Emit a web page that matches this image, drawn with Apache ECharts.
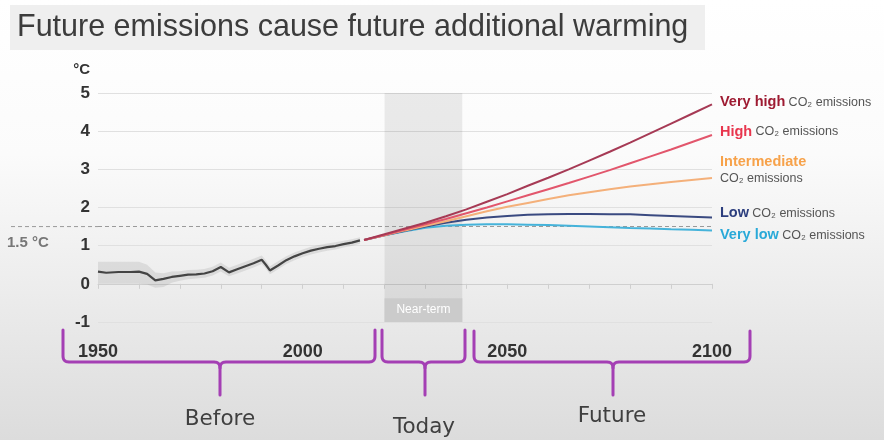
<!DOCTYPE html>
<html><head><meta charset="utf-8">
<script src="https://cdn.jsdelivr.net/npm/echarts@6/dist/echarts.min.js"></script>
<style>html,body{margin:0;padding:0;background:#fff}#c{width:884px;height:440px}</style>
</head><body><div id="c"></div>
<script>
// ---- data ----
const histYears = [1950,1952,1955,1958,1960,1962,1964,1966,1968,1970,1972,1974,1976,1978,1980,1982,1984,1986,1988,1990,1991,1992,1994,1996,1998,2000,2002,2004,2006,2008,2010,2012,2014];
const histTemp  = [0.32,0.29,0.31,0.31,0.32,0.26,0.09,0.13,0.18,0.21,0.24,0.25,0.27,0.33,0.44,0.30,0.38,0.46,0.54,0.63,0.50,0.35,0.48,0.62,0.72,0.80,0.87,0.92,0.96,0.99,1.04,1.08,1.14];
const bandLow   = [0.00,0.00,0.00,0.00,0.00,-0.02,-0.10,-0.08,0.03,0.08,0.12,0.14,0.16,0.22,0.32,0.20,0.27,0.35,0.43,0.52,0.40,0.25,0.38,0.52,0.62,0.70,0.77,0.82,0.87,0.90,0.95,0.99,1.05];
const bandHigh  = [0.58,0.58,0.58,0.58,0.58,0.50,0.30,0.28,0.32,0.33,0.36,0.37,0.39,0.45,0.56,0.42,0.50,0.58,0.66,0.74,0.62,0.46,0.59,0.72,0.82,0.90,0.97,1.02,1.06,1.09,1.13,1.17,1.22];

const scenYears = [2015,2020,2025,2030,2035,2040,2045,2050,2055,2060,2065,2070,2075,2080,2085,2090,2095,2100];
const veryHigh  = [1.15,1.30,1.45,1.60,1.77,1.95,2.15,2.35,2.57,2.78,3.00,3.23,3.46,3.70,3.95,4.20,4.45,4.70];
const high      = [1.15,1.28,1.42,1.56,1.70,1.85,2.00,2.16,2.32,2.48,2.64,2.81,2.98,3.16,3.34,3.52,3.71,3.90];
const intermed  = [1.15,1.27,1.40,1.52,1.64,1.77,1.90,2.02,2.12,2.22,2.32,2.40,2.48,2.55,2.61,2.67,2.72,2.77];
const low       = [1.15,1.27,1.39,1.50,1.60,1.68,1.74,1.78,1.81,1.82,1.83,1.83,1.82,1.82,1.80,1.78,1.76,1.74];
const veryLow   = [1.15,1.27,1.38,1.47,1.52,1.55,1.56,1.56,1.55,1.54,1.52,1.50,1.48,1.46,1.45,1.43,1.42,1.40];

const scenNames  = ['Very low','Low','Intermediate','High','Very high'];
const scenValues = [veryLow, low, intermed, high, veryHigh];
const scenLine   = ['#45b3da','#3a4a80','#f4b07a','#e2566c','#a63a55'];
const scenText   = ['#29a9d8','#2c3e7e','#f7a24a','#e8364e','#9e1b32'];
const scenDy     = [5,-4,-8,-3,-2];

const yearTicks = [1950,2000,2050,2100];
const nearTerm  = [2020,2039];
const limit15   = 1.5;

// ---- chart ----
const chart = echarts.init(document.getElementById('c'));
const pairs = (xs, ys) => xs.map((x,i)=>[x, ys[i]]);
const FONT = 'Liberation Sans, Arial, sans-serif';

const series = [];
// uncertainty band around observations (polygon through the axis scales)
series.push({
  type:'custom', name:'band', silent:true, z:1,
  data: histYears.map((x,i)=>[x, bandLow[i], bandHigh[i]]),
  renderItem: function(params, api){
    if(params.dataIndex !== 0) return null;
    const top = [], bot = [];
    for(let i=0;i<histYears.length;i++){
      top.push(api.coord([histYears[i], bandHigh[i]]));
      bot.unshift(api.coord([histYears[i], bandLow[i]]));
    }
    return {type:'polygon', shape:{points: top.concat(bot)}, style:{fill:'rgba(140,140,140,0.2)'}};
  },
  encode:{x:0, y:[1,2]}
});
series.push({
  type:'line', name:'Observed', data: pairs(histYears, histTemp), symbol:'none',
  lineStyle:{color:'#444', width:2.2}, z:5,
  markArea:{
    silent:true,
    data:[
      [{xAxis:nearTerm[0], yAxis:5, itemStyle:{color:'rgba(0,0,0,0.075)'}}, {xAxis:nearTerm[1], yAxis:-1}],
      [{xAxis:nearTerm[0], yAxis:-0.38, itemStyle:{color:'#cbcbcb'},
        label:{show:true, position:'inside', formatter:'Near-term', color:'#fff', fontSize:12, fontFamily:FONT}},
       {xAxis:nearTerm[1], yAxis:-1}]
    ]
  },
  markLine:{
    silent:true, symbol:'none',
    lineStyle:{color:'#9a9a9a', type:[4,3], width:1},
    label:{show:false},
    data:[{yAxis:limit15}]
  }
});
scenNames.forEach((n,i)=>{
  const isInter = n==='Intermediate';
  series.push({
    type:'line', name:n, data: pairs(scenYears, scenValues[i]), symbol:'none',
    lineStyle:{color:scenLine[i], width:2}, z:6+i,
    endLabel:{
      show:true, distance:8, offset:[0, scenDy[i]], align:'left', verticalAlign:'middle',
      formatter: isInter ? '{a|'+n+'}\n{b|CO₂ emissions}' : '{a|'+n+'} {b|CO₂ emissions}',
      rich:{
        a:{fontWeight:'bold', fontSize:14.5, color:scenText[i], fontFamily:FONT, lineHeight:17},
        b:{fontSize:12.5, color:'#555', fontFamily:FONT, lineHeight:17}
      }
    }
  });
});

// curly-brace outline (decoration) as sampled polylines
function quad(p0, p1, p2, out){
  for(let k=1;k<=6;k++){const t=k/6, u=1-t;
    out.push([u*u*p0[0]+2*u*t*p1[0]+t*t*p2[0], u*u*p0[1]+2*u*t*p1[1]+t*t*p2[1]]);}
}
function brace(x1, x2, xm, y0, y1, y2){
  const r = 6;
  const a = [[x1,y0],[x1,y1-r]]; quad([x1,y1-r],[x1,y1],[x1+r,y1],a);
  a.push([xm-r,y1]); quad([xm-r,y1],[xm,y1],[xm,y1+r],a); a.push([xm,y2]);
  const b = [[xm,y1+r]]; quad([xm,y1+r],[xm,y1],[xm+r,y1],b);
  b.push([x2-r,y1]); quad([x2-r,y1],[x2,y1],[x2,y1-r],b); b.push([x2,y0]);
  const st = {stroke:'#a43fb4', lineWidth:3, fill:null, lineCap:'round', lineJoin:'round'};
  return [{type:'polyline', shape:{points:a}, style:st}, {type:'polyline', shape:{points:b}, style:st}];
}
const wordStyle = {fontFamily:'DejaVu Sans, sans-serif', fontSize:21.5, fill:'#3f3f3f', align:'center', verticalAlign:'middle'};

chart.setOption({
  animation:false,
  backgroundColor:{type:'linear', x:0, y:0, x2:0, y2:1, colorStops:[
    {offset:0, color:'#ffffff'},{offset:0.35, color:'#fbfbfb'},{offset:1, color:'#dcdcdc'}]},
  grid:{left:98, right:172, top:93, bottom:118},
  xAxis:{
    type:'value', min:1950, max:2100, interval:10,
    axisLine:{lineStyle:{color:'#cfcfcf'}},
    axisTick:{show:true, length:5, lineStyle:{color:'#cfcfcf'}},
    splitLine:{show:false},
    axisLabel:{margin:21, fontSize:18, fontWeight:'bold', color:'#333', fontFamily:FONT,
      formatter:v => yearTicks.includes(v) ? String(v) : ''}
  },
  yAxis:{
    type:'value', min:-1, max:5, interval:1,
    name:'°C', nameLocation:'end', nameGap:16,
    nameTextStyle:{align:'right', padding:[0,8,0,0], fontSize:15, fontWeight:'bold', color:'#333', fontFamily:FONT},
    axisLine:{show:false}, axisTick:{show:false},
    splitLine:{lineStyle:{color:'#e0e0e0'}},
    axisLabel:{margin:8, fontSize:17, fontWeight:'bold', color:'#333', fontFamily:FONT}
  },
  series: series
});

// 1.5 °C reference: extend dashed line to the left margin and label it
const p15 = chart.convertToPixel({gridIndex:0}, [1950, limit15]);
chart.setOption({
  graphic:[
    {type:'rect', shape:{x:10, y:5, width:695, height:45}, style:{fill:'#efefef'}, silent:true},
    {type:'text', x:17, y:28, style:{text:'Future emissions cause future additional warming', fontFamily:FONT,
      fontSize:30.5, fill:'#3c3c3c', verticalAlign:'middle'}},
    ...brace(63,375,220,330,362,395),
    ...brace(382,465,425,330,362,395),
    ...brace(474,750,613,331,362,395),
    {type:'text', x:220, y:419, style:Object.assign({text:'Before'}, wordStyle)},
    {type:'text', x:424, y:427, style:Object.assign({text:'Today'}, wordStyle)},
    {type:'text', x:612, y:416, style:Object.assign({text:'Future'}, wordStyle)},
    {type:'line', shape:{x1:11, y1:p15[1], x2:p15[0], y2:p15[1]}, style:{stroke:'#9a9a9a', lineWidth:1, lineDash:[4,3]}},
    {type:'text', x:7, y:p15[1]+16, style:{text:'1.5 °C', fontFamily:FONT, fontSize:15, fontWeight:'bold', fill:'#777', verticalAlign:'middle'}}
  ]
});
</script>
</body></html>
